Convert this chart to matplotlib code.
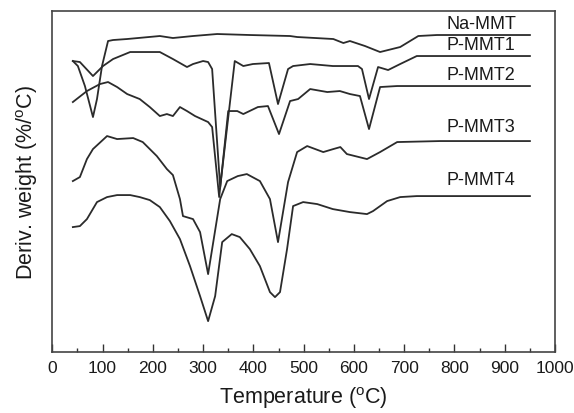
import matplotlib
matplotlib.use("Agg")
import matplotlib.pyplot as plt
from matplotlib.ticker import MultipleLocator

plt.rcParams['font.family'] = ['Liberation Sans', 'DejaVu Sans']

# DTG curves (temperature in C, derivative weight in arbitrary units)
na_T = [41, 51, 65, 81, 89, 99, 111, 121, 149, 214, 240, 280, 328, 393, 473, 487,
        559, 579, 592, 622, 652, 692, 728, 765, 950]
na_v = [29.1, 28.6, 26.6, 23.5, 25.3, 28.6, 31.1, 31.2, 31.3, 31.6, 31.4, 31.6, 31.8,
        31.7, 31.6, 31.5, 31.3, 30.9, 31.1, 30.6, 30.0, 30.5, 31.6, 31.7, 31.7]

p1_T = [41, 55, 81, 101, 121, 155, 214, 240, 268, 280, 300, 310, 318, 334, 363, 380,
        399, 431, 449, 469, 479, 513, 558, 608, 616, 630, 648, 668, 692, 725, 950]
p1_v = [29.1, 29.0, 27.6, 28.6, 29.3, 30.0, 30.0, 29.3, 28.5, 28.8, 29.1, 29.0, 28.3,
        16.5, 29.1, 28.6, 28.8, 28.9, 24.8, 28.3, 28.6, 28.8, 28.6, 28.6, 28.3, 25.3,
        28.5, 28.2, 28.8, 29.6, 29.6]

p2_T = [41, 69, 95, 111, 129, 149, 174, 194, 214, 228, 240, 254, 268, 284, 310, 318,
        332, 350, 368, 380, 409, 429, 451, 473, 489, 513, 547, 572, 592, 612, 630, 652,
        686, 950]
p2_v = [25.0, 26.1, 26.8, 27.0, 26.5, 25.8, 25.3, 24.5, 23.6, 23.8, 23.6, 24.5, 24.1,
        23.6, 23.0, 22.5, 15.5, 24.1, 24.1, 23.8, 24.5, 24.6, 21.8, 25.1, 25.3, 26.3,
        26.0, 26.1, 25.8, 25.6, 22.3, 26.5, 26.6, 26.6]

p3_T = [41, 55, 69, 81, 109, 129, 161, 180, 208, 228, 240, 254, 260, 280, 294, 310,
        334, 348, 369, 387, 413, 433, 449, 469, 487, 507, 539, 559, 573, 586, 626, 652,
        686, 771, 950]
p3_v = [17.1, 17.5, 19.3, 20.3, 21.6, 21.3, 21.4, 21.0, 19.6, 18.3, 17.7, 15.3, 13.6,
        13.3, 12.0, 7.8, 15.3, 17.1, 17.6, 17.8, 17.1, 15.3, 11.0, 17.0, 20.0, 20.6,
        20.0, 20.3, 20.5, 19.8, 19.3, 20.0, 21.0, 21.1, 21.1]

p4_T = [41, 55, 69, 89, 109, 129, 155, 174, 194, 214, 234, 254, 274, 294, 310, 324,
        338, 357, 373, 393, 413, 433, 443, 453, 467, 479, 499, 527, 558, 592, 626, 638,
        666, 692, 725, 777, 950]
p4_v = [12.5, 12.6, 13.3, 15.0, 15.5, 15.7, 15.7, 15.5, 15.2, 14.5, 13.1, 11.3, 8.6,
        5.6, 3.1, 5.6, 11.0, 11.8, 11.5, 10.3, 8.6, 6.0, 5.5, 6.0, 10.3, 14.6, 15.0,
        14.8, 14.3, 14.0, 13.8, 14.1, 15.1, 15.5, 15.6, 15.6, 15.6]

names = ["Na-MMT", "P-MMT1", "P-MMT2", "P-MMT3", "P-MMT4"]
curves = [(na_T, na_v), (p1_T, p1_v), (p2_T, p2_v), (p3_T, p3_v), (p4_T, p4_v)]
label_gap = [0.35, 0.35, 0.35, 0.6, 0.8]

fig = plt.figure(figsize=(5.74, 4.14), dpi=100)
ax = fig.add_axes([0.091, 0.147, 0.876, 0.824])

line_col = '#2b2b2b'
for (T, v), name, gap in zip(curves, names, label_gap):
    ax.plot(T, v, color=line_col, lw=1.3, solid_joinstyle='round')
    ax.text(785, v[-1] + gap, name, fontsize=13, color='#1a1a1a',
            ha='left', va='bottom')

ax.set_xlim(0, 1000)
ax.set_ylim(0, 34.1)
ax.xaxis.set_major_locator(MultipleLocator(100))
ax.xaxis.set_minor_locator(MultipleLocator(50))
ax.tick_params(axis='x', which='both', direction='in', top=False, labelsize=12.5,
               colors='#333333', labelcolor='#1a1a1a', pad=6)
ax.tick_params(axis='x', which='major', length=6, width=1)
ax.tick_params(axis='x', which='minor', length=3, width=1)
ax.set_yticks([])
for s in ax.spines.values():
    s.set_color('#444444')
    s.set_linewidth(1.2)

ax.set_xlabel(r'Temperature ($^\mathregular{o}$C)', fontsize=15.5, color='#1a1a1a', labelpad=6)
ax.set_ylabel(r'Deriv. weight (%/$^\mathregular{o}$C)', fontsize=15.5, color='#1a1a1a', labelpad=9)

fig.savefig('out.png', dpi=100)
